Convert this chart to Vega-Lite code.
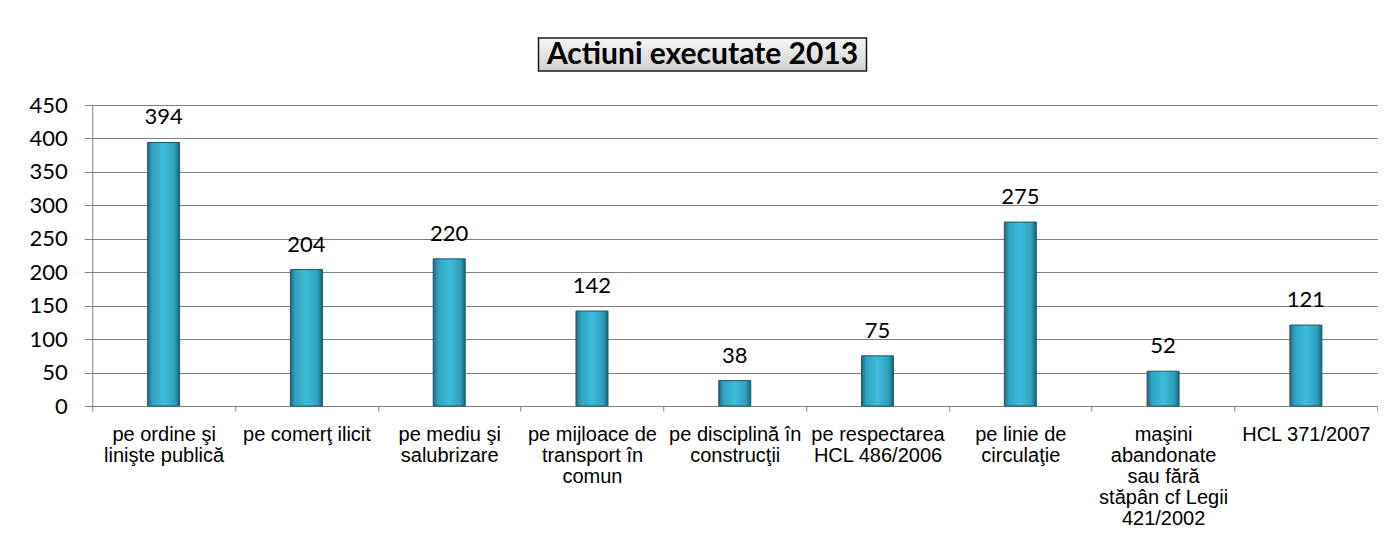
{
  "$schema": "https://vega.github.io/schema/vega-lite/v6.json",
  "background": "white",
  "padding": {"left": 28, "top": 37, "right": 0, "bottom": 0},
  "spacing": 22,
  "center": true,
  "config": {"view": {"stroke": null}},
  "vconcat": [
    {
      "hconcat": [
        {
          "width": 328,
          "height": 33,
          "data": {"values": [{"title": "Actiuni executate 2013"}]},
          "layer": [
            {
              "mark": {"type": "rect", "stroke": "#1a1a1a", "strokeWidth": 1.5,
                "color": {"gradient": "linear", "x1": 0, "y1": 0, "x2": 0, "y2": 1, "stops": [
                  {"offset": 0, "color": "#f5f5f5"},
                  {"offset": 1, "color": "#d2d2d2"}
                ]}
              },
              "encoding": {}
            },
            {
              "mark": {"type": "text", "font": "Lato", "fontWeight": "bold", "fontSize": 30, "color": "#000000", "baseline": "middle", "align": "center"},
              "encoding": {"text": {"field": "title", "type": "nominal"}}
            }
          ]
        },
        {
          "width": 64,
          "height": 33,
          "data": {"values": [{"title": ""}]},
          "mark": {"type": "text", "opacity": 0},
          "encoding": {"text": {"field": "title", "type": "nominal"}}
        }
      ],
      "spacing": 0
    },
    {
      "width": 1285,
      "height": 301,
      "data": {"values": [
        {"categorie": "pe ordine şi\nlinişte publică", "actiuni": 394},
        {"categorie": "pe comerţ  ilicit", "actiuni": 204},
        {"categorie": "pe mediu şi\nsalubrizare", "actiuni": 220},
        {"categorie": "pe mijloace de\ntransport în\ncomun", "actiuni": 142},
        {"categorie": "pe disciplină în\nconstrucţii", "actiuni": 38},
        {"categorie": "pe respectarea\nHCL 486/2006", "actiuni": 75},
        {"categorie": "pe linie de\ncirculaţie", "actiuni": 275},
        {"categorie": "maşini\nabandonate\nsau fără\nstăpân cf Legii\n421/2002", "actiuni": 52},
        {"categorie": "HCL 371/2007", "actiuni": 121}
      ]},
      "encoding": {
        "x": {
          "field": "categorie", "type": "nominal", "sort": null, "title": null,
          "scale": {"paddingInner": 0, "paddingOuter": 0},
          "axis": {
            "tickBand": "extent",
            "tickSize": 5,
            "tickColor": "#808080",
            "domainColor": "#808080",
            "labelAngle": 0,
            "labelPadding": 13,
            "labelOverlap": false,
            "labelColor": "#000000",
            "labelLineHeight": 21,
            "labelExpr": "split(datum.label, '\\n')",
            "labelFont": "Liberation Sans",
            "labelFontSize": 20
          }
        },
        "y": {
          "field": "actiuni", "type": "quantitative", "title": null,
          "scale": {"domain": [0, 450], "nice": false},
          "axis": {
            "values": [0, 50, 100, 150, 200, 250, 300, 350, 400, 450],
            "grid": true,
            "gridColor": "#808080",
            "gridWidth": 1,
            "domainColor": "#808080",
            "tickColor": "#808080",
            "tickSize": 8,
            "labelPadding": 17,
            "labelFont": "Lato",
            "labelFontSize": 22,
            "labelColor": "#000000"
          }
        }
      },
      "layer": [
        {
          "mark": {
            "type": "bar",
            "width": 32,
            "stroke": "#1b5a6a",
            "strokeWidth": 1,
            "color": {"gradient": "linear", "x1": 0, "y1": 0, "x2": 1, "y2": 0, "stops": [
              {"offset": 0, "color": "#1e6a7e"},
              {"offset": 0.15, "color": "#2fa3c0"},
              {"offset": 0.5, "color": "#3dbcda"},
              {"offset": 0.85, "color": "#2e9fbb"},
              {"offset": 1, "color": "#1c6175"}
            ]}
          }
        },
        {
          "mark": {"type": "text", "font": "Lato", "fontSize": 22, "color": "#000000", "baseline": "alphabetic", "dy": -18},
          "encoding": {"text": {"field": "actiuni", "type": "quantitative"}}
        }
      ]
    }
  ]
}
